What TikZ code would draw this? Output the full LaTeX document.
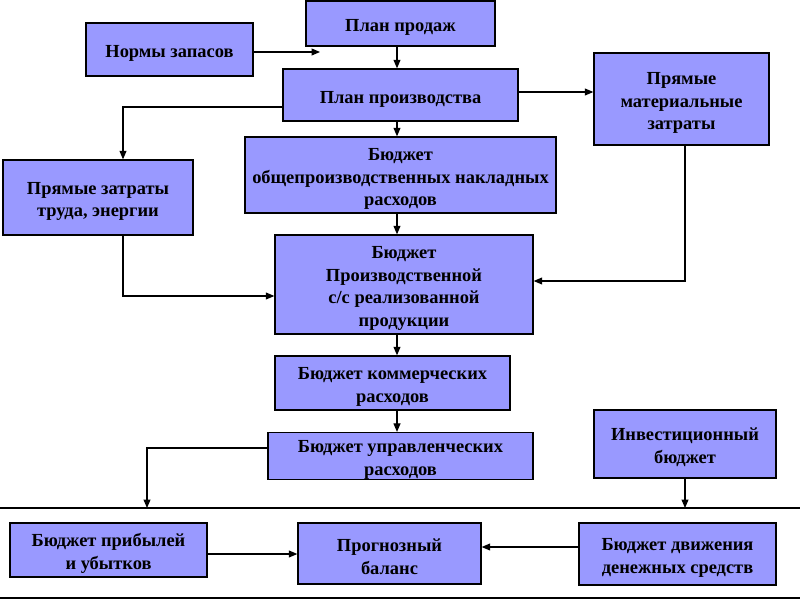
\documentclass[tikz,border=0pt]{standalone}
\usepackage{fontspec}
\setmainfont{Liberation Serif}
\usetikzlibrary{arrows.meta}
\definecolor{boxblue}{RGB}{153,153,255}
\newcommand{\toppad}{\rule{0pt}{20bp}}
\begin{document}
\begin{tikzpicture}[x=1bp,y=-1bp,
  block/.style={draw=black, fill=boxblue, line width=1.4bp, align=center,
    inner sep=0pt, font=\fontsize{18.5}{23}\selectfont\bfseries},
  arrow/.style={line width=1.1bp, -{Triangle[length=8.5bp,width=7bp]}}]
  \useasboundingbox (0,0) rectangle (800,600);

  % Upper part: sales and production
  \node[block, minimum width=189bp, minimum height=45bp] (sales) at (400.5,23.5) {\toppad План продаж};
  \node[block, minimum width=167bp, minimum height=53bp] (norms) at (169.5,49.5) {\toppad Нормы запасов};
  \node[block, minimum width=235bp, minimum height=52bp] (prod) at (400.5,95) {\toppad План производства};
  \node[block, minimum width=175bp, minimum height=92bp] (material) at (681.5,99) {\toppad Прямые\\материальные\\затраты};
  \node[block, minimum width=190bp, minimum height=75bp] (labour) at (98,197.5) {\toppad Прямые затраты\\труда, энергии};
  \node[block, minimum width=311bp, minimum height=76bp] (overhead) at (400.5,175) {\toppad Бюджет\\общепроизводственных накладных\\расходов};
  \node[block, minimum width=258bp, minimum height=99bp] (cost) at (404,284.5) {\toppad Бюджет\\Производственной\\с/с реализованной\\продукции};
  \node[block, minimum width=235bp, minimum height=54bp] (commerce) at (392.5,383) {\toppad Бюджет коммерческих\\расходов};
  \node[block, minimum width=265bp, minimum height=46bp] (admin) at (400.5,456) {\toppad Бюджет управленческих\\расходов};
  \node[block, minimum width=182bp, minimum height=68bp] (invest) at (685,444) {\toppad Инвестиционный\\бюджет};

  % Lower part: final budgets
  \node[block, minimum width=197bp, minimum height=54bp] (profit) at (108.5,550) {\toppad Бюджет прибылей\\и убытков};
  \node[block, minimum width=183bp, minimum height=61bp] (balance) at (389.5,553.5) {\toppad Прогнозный\\баланс};
  \node[block, minimum width=197bp, minimum height=62bp] (cash) at (677.5,554) {\toppad Бюджет движения\\денежных средств};

  % Separator lines
  \coordinate (lineL) at (0,508);
  \coordinate (lineR) at (800,508);
  \draw[line width=1.1bp] (lineL) -- (lineR);
  \draw[line width=1.1bp] (0,598) -- (800,598);

  % Main vertical chain
  \coordinate (spine) at (397,0);
  \foreach \a/\b in {sales/prod, prod/overhead, overhead/cost, cost/commerce, commerce/admin}
    \draw[arrow] (\a.south -| spine) -- (\b.north -| spine);

  % Side connectors
  \coordinate (normsend) at (320,52);
  \draw[arrow] (norms.east |- normsend) -- (normsend);
  \draw[arrow] ([yshift=3bp]prod.east) -- ([yshift=3bp]prod.east -| material.west);
  \draw[arrow] ([yshift=-12bp]prod.west) -| ([xshift=25bp]labour.north);
  \draw[arrow] ([xshift=25bp]labour.south) |- ([yshift=-11.5bp]cost.west);
  \draw[arrow] ([xshift=3.5bp]material.south) |- ([yshift=3.5bp]cost.east);
  \coordinate (adminend) at (147,508);
  \draw[arrow] ([yshift=8bp]admin.west) -| (adminend);
  \coordinate (investend) at (685,508);
  \draw[arrow] (invest.south) -- (investend);
  \draw[arrow] ([yshift=-4bp]profit.east) -- ([yshift=-4bp]profit.east -| balance.west);
  \draw[arrow] ([yshift=7bp]cash.west) -- ([yshift=7bp]cash.west -| balance.east);
\end{tikzpicture}
\end{document}
